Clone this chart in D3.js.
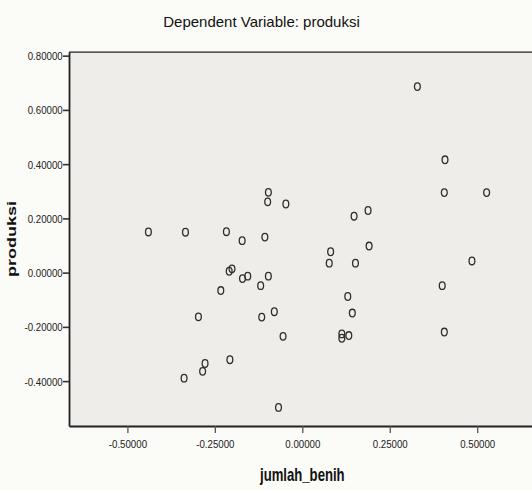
<!DOCTYPE html>
<html>
<head>
<meta charset="utf-8">
<script src="https://cdn.jsdelivr.net/npm/d3@7"></script>
<style>
  html, body { margin: 0; padding: 0; background: #fbfbf8; }
  svg { display: block; }
</style>
</head>
<body>
<svg id="chart" width="532" height="490"></svg>
<script>
// Partial regression values (jumlah_benih vs produksi)
const jumlahBenih = [
  0.329, 0.408, 0.406, 0.527, 0.148, 0.188, 0.191, 0.081, 0.077, 0.152,
  0.485, 0.400, 0.130, 0.143, 0.113, 0.113, 0.133, 0.406, -0.097, -0.099,
  -0.047, -0.440, -0.334, -0.217, -0.172, -0.107, -0.209, -0.201, -0.171, -0.156,
  -0.097, -0.119, -0.233, -0.297, -0.116, -0.080, -0.055, -0.207, -0.278, -0.285,
  -0.338, -0.068
];
const produksi = [
  0.686, 0.416, 0.295, 0.295, 0.208, 0.229, 0.098, 0.077, 0.035, 0.035,
  0.043, -0.048, -0.088, -0.149, -0.226, -0.242, -0.232, -0.219, 0.296, 0.261,
  0.253, 0.150, 0.149, 0.151, 0.118, 0.131, 0.005, 0.014, -0.022, -0.013,
  -0.013, -0.048, -0.066, -0.163, -0.164, -0.144, -0.235, -0.321, -0.335, -0.364,
  -0.389, -0.497
];
const xTicks = [-0.5, -0.25, 0, 0.25, 0.5];
const yTicks = [-0.4, -0.2, 0, 0.2, 0.4, 0.6, 0.8];
const titleText = "Dependent Variable: produksi";
const xTitle = "jumlah_benih";
const yTitle = "produksi";

const svg = d3.select("#chart");
const plotLeft = 69, plotRight = 535.6, plotTop = 52, plotBottom = 426;

const x = d3.scaleLinear().domain([-0.667, 0.667]).range([plotLeft, plotRight]);
const y = d3.scaleLinear().domain([-0.5655, 0.8135]).range([plotBottom, plotTop]);

const loc = d3.formatLocale({decimal: ".", thousands: ",", grouping: [3], currency: ["", ""], minus: "-"});
const fmt = loc.format(".5f");

const font = "'Liberation Sans', Arial, sans-serif";

// title
svg.append("text")
  .attr("x", 261.5).attr("y", 27.3)
  .attr("text-anchor", "middle")
  .attr("font-family", font).attr("font-size", 15)
  .attr("fill", "#111")
  .text(titleText);

// plot area
svg.append("rect")
  .attr("x", plotLeft).attr("y", plotTop)
  .attr("width", plotRight - plotLeft).attr("height", plotBottom - plotTop)
  .attr("fill", "#eeede9");

// points
svg.append("g")
  .selectAll("ellipse")
  .data(jumlahBenih.map((v, i) => [v, produksi[i]]))
  .join("ellipse")
  .attr("cx", d => x(d[0]))
  .attr("cy", d => y(d[1]))
  .attr("rx", 2.9).attr("ry", 3.8)
  .attr("fill", "none")
  .attr("stroke", "#2e2e2e")
  .attr("stroke-width", 1.3);

// frame
svg.append("line").attr("x1", plotLeft).attr("x2", plotRight).attr("y1", plotTop - 0.5).attr("y2", plotTop - 0.5)
  .attr("stroke", "#8a8a8a").attr("stroke-width", 1);
svg.append("line").attr("x1", plotLeft).attr("x2", plotRight).attr("y1", plotTop + 0.5).attr("y2", plotTop + 0.5)
  .attr("stroke", "#555").attr("stroke-width", 1);

// y axis
const gy = svg.append("g").attr("transform", `translate(${plotLeft},0)`)
  .call(d3.axisLeft(y).tickValues(yTicks).tickFormat(fmt).tickSize(6).tickSizeOuter(0));
gy.select(".domain").attr("stroke", "#222").attr("stroke-width", 1.8);
gy.selectAll(".tick line").attr("stroke", "#333").attr("stroke-width", 1.6);
gy.selectAll(".tick text")
  .attr("x", 0).attr("dy", null)
  .attr("transform", "translate(-6.3,3.9) scale(0.88,1)")
  .attr("font-family", font).attr("font-size", 11).attr("fill", "#222");

// x axis
const gx = svg.append("g").attr("transform", `translate(0,${plotBottom})`)
  .call(d3.axisBottom(x).tickValues(xTicks).tickFormat(fmt).tickSize(7).tickSizeOuter(0));
gx.select(".domain").attr("stroke", "#222").attr("stroke-width", 1.8);
gx.selectAll(".tick line").attr("stroke", "#555").attr("stroke-width", 1.3);
gx.selectAll(".tick text")
  .attr("y", 0).attr("dy", null)
  .attr("transform", "translate(0,22.3) scale(0.88,1)")
  .attr("font-family", font).attr("font-size", 11).attr("fill", "#222");

// axis titles
svg.append("text")
  .attr("transform", `translate(${(plotLeft + plotRight) / 2},480.5) scale(0.73,1)`)
  .attr("text-anchor", "middle")
  .attr("font-family", font).attr("font-size", 18).attr("font-weight", "bold")
  .attr("fill", "#111")
  .text(xTitle);

svg.append("text")
  .attr("transform", `translate(15.5,${(plotTop + plotBottom) / 2}) rotate(-90) scale(1.5,1)`)
  .attr("text-anchor", "middle")
  .attr("font-family", font).attr("font-size", 12).attr("font-weight", "bold")
  .attr("fill", "#111")
  .text(yTitle);
</script>
</body>
</html>
